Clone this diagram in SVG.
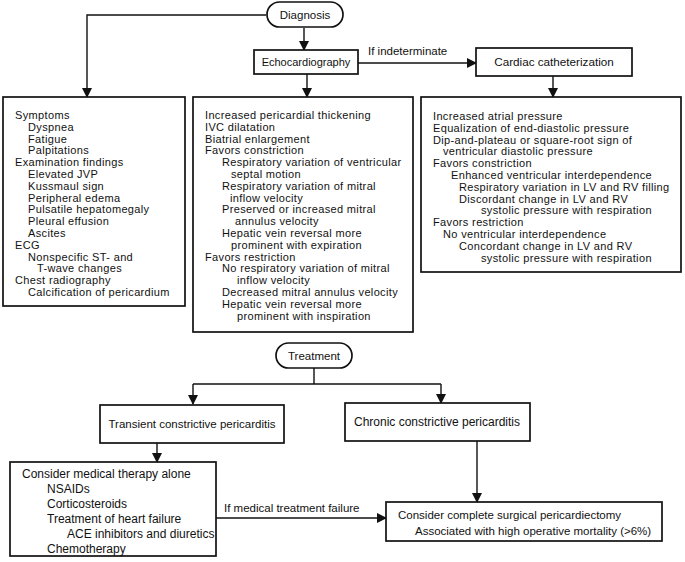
<svg xmlns="http://www.w3.org/2000/svg" width="685" height="562" viewBox="0 0 685 562">
<style>
text{font-family:"Liberation Sans",Arial,sans-serif;font-size:12px;fill:#111}
.box{fill:#fff;stroke:#111;stroke-width:1.7}
.c{text-anchor:middle}
.ln{fill:none;stroke:#111;stroke-width:1.4}
.s{font-size:11.5px}
.e{font-size:11px}
.t text{font-size:11px;letter-spacing:0.35px}
</style>
<defs>
<marker id="ah" markerWidth="10" markerHeight="10" refX="9" refY="5" orient="auto" markerUnits="userSpaceOnUse">
<path d="M0,0 L10,5 L0,10 Z" fill="#111"/>
</marker>
</defs>
<rect width="685" height="562" fill="#fff"/>
<g id="connectors">
<path class="ln" d="M266,15 H87 V97" marker-end="url(#ah)"/>
<path class="ln" d="M304,28 V50" marker-end="url(#ah)"/>
<path class="ln" d="M358,63 H476" marker-end="url(#ah)"/>
<text class="s" x="368" y="55">If indeterminate</text>
<path class="ln" d="M307,74 V97" marker-end="url(#ah)"/>
<path class="ln" d="M553,76 V97" marker-end="url(#ah)"/>
<path class="ln" d="M314,368 V384 M193,384 H441"/>
<path class="ln" d="M193,384 V404" marker-end="url(#ah)"/>
<path class="ln" d="M441,384 V403" marker-end="url(#ah)"/>
<path class="ln" d="M157,443 V462" marker-end="url(#ah)"/>
<path class="ln" d="M477,441 V502" marker-end="url(#ah)"/>
<path class="ln" d="M216,518 H386" marker-end="url(#ah)"/>
<text class="s" x="224" y="512">If medical treatment failure</text>
</g>
<g id="diagnosis">
<rect class="box" x="267" y="2" width="76" height="25" rx="12.5"/>
<text class="c s" x="305" y="19">Diagnosis</text>
</g>
<g id="echo">
<rect class="box" x="254" y="50" width="104" height="24"/>
<text class="c e" x="306" y="66">Echocardiography</text>
</g>
<g id="cath">
<rect class="box" x="476" y="48" width="156" height="28"/>
<text class="c" x="554" y="66" style="font-size:11.7px">Cardiac catheterization</text>
</g>
<g id="clinical" class="t">
<rect class="box" x="3" y="97" width="182" height="209"/>
<text x="15" y="119">Symptoms</text>
<text x="28" y="130.8">Dyspnea</text>
<text x="28" y="142.6">Fatigue</text>
<text x="28" y="154.4">Palpitations</text>
<text x="15" y="166.2">Examination findings</text>
<text x="28" y="178">Elevated JVP</text>
<text x="28" y="189.8">Kussmaul sign</text>
<text x="28" y="201.6">Peripheral edema</text>
<text x="28" y="213.4">Pulsatile hepatomegaly</text>
<text x="28" y="225.2">Pleural effusion</text>
<text x="28" y="237">Ascites</text>
<text x="15" y="248.8">ECG</text>
<text x="28" y="260.6">Nonspecific ST- and</text>
<text x="37" y="272.4">T-wave changes</text>
<text x="15" y="284.2">Chest radiography</text>
<text x="28" y="296">Calcification of pericardium</text>
</g>
<g id="echo-findings" class="t">
<rect class="box" x="193" y="97" width="220" height="235"/>
<text x="205" y="119">Increased pericardial thickening</text>
<text x="205" y="130.8">IVC dilatation</text>
<text x="205" y="142.6">Biatrial enlargement</text>
<text x="205" y="154.4">Favors constriction</text>
<text x="222" y="166.2">Respiratory variation of ventricular</text>
<text x="231" y="178">septal motion</text>
<text x="222" y="189.8">Respiratory variation of mitral</text>
<text x="230" y="201.6">inflow velocity</text>
<text x="222" y="213.4">Preserved or increased mitral</text>
<text x="235" y="225.2">annulus velocity</text>
<text x="222" y="237">Hepatic vein reversal more</text>
<text x="231" y="248.8">prominent with expiration</text>
<text x="205" y="260.6">Favors restriction</text>
<text x="222" y="272.4">No respiratory variation of mitral</text>
<text x="237" y="284.2">inflow velocity</text>
<text x="222" y="296">Decreased mitral annulus velocity</text>
<text x="222" y="307.8">Hepatic vein reversal more</text>
<text x="237" y="319.6">prominent with inspiration</text>
</g>
<g id="cath-findings" class="t">
<rect class="box" x="421" y="97" width="260" height="175"/>
<text x="433" y="120">Increased atrial pressure</text>
<text x="433" y="131.8">Equalization of end-diastolic pressure</text>
<text x="433" y="143.6">Dip-and-plateau or square-root sign of</text>
<text x="443" y="155.4">ventricular diastolic pressure</text>
<text x="433" y="167.2">Favors constriction</text>
<text x="451" y="179">Enhanced ventricular interdependence</text>
<text x="459" y="190.8">Respiratory variation in LV and RV filling</text>
<text x="459" y="202.6">Discordant change in LV and RV</text>
<text x="481" y="214.4">systolic pressure with respiration</text>
<text x="433" y="226.2">Favors restriction</text>
<text x="443" y="238">No ventricular interdependence</text>
<text x="459" y="249.8">Concordant change in LV and RV</text>
<text x="481" y="261.6">systolic pressure with respiration</text>
</g>
<g id="treatment">
<rect class="box" x="276" y="343" width="76" height="25" rx="12.5"/>
<text class="c s" x="314" y="360">Treatment</text>
</g>
<g id="transient">
<rect class="box" x="100" y="405" width="184" height="38"/>
<text class="c s" x="192" y="428">Transient constrictive pericarditis</text>
</g>
<g id="chronic">
<rect class="box" x="345" y="403" width="185" height="38"/>
<text class="c" x="437" y="426">Chronic constrictive pericarditis</text>
</g>
<g id="medical">
<rect class="box" x="10" y="462" width="206" height="94"/>
<text x="22" y="478">Consider medical therapy alone</text>
<text x="47" y="493">NSAIDs</text>
<text x="47" y="508">Corticosteroids</text>
<text x="47" y="523">Treatment of heart failure</text>
<text x="67" y="538">ACE inhibitors and diuretics</text>
<text x="47" y="553">Chemotherapy</text>
</g>
<g id="surgery">
<rect class="box" x="386" y="502" width="276" height="39"/>
<text class="s" x="398" y="519">Consider complete surgical pericardiectomy</text>
<text class="s" x="415" y="535">Associated with high operative mortality (&gt;6%)</text>
</g>
</svg>
